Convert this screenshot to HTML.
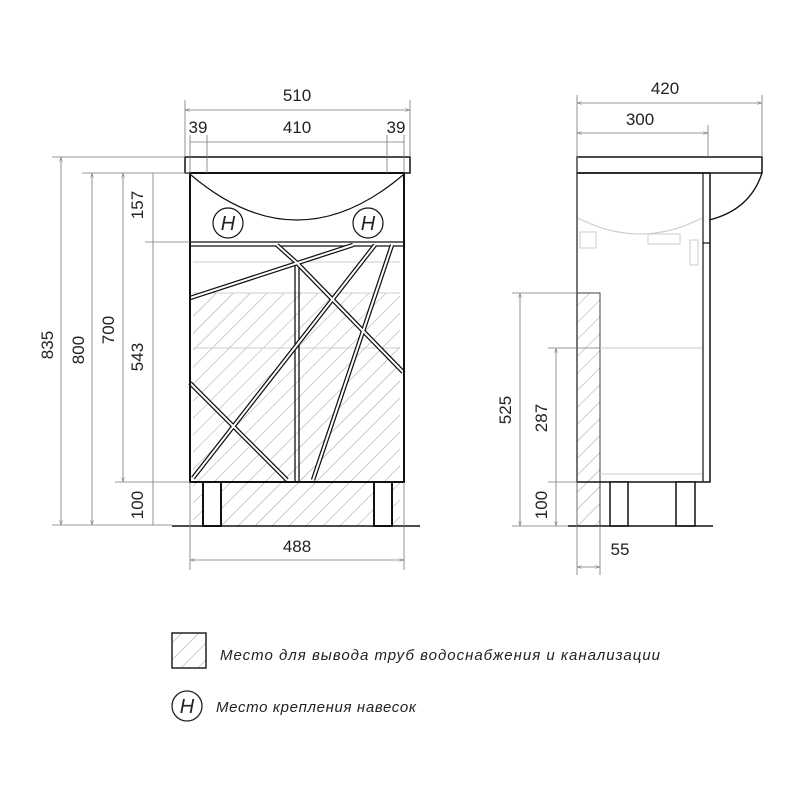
<!DOCTYPE html>
<html><head><meta charset="utf-8"><style>
html,body{margin:0;padding:0;background:#fff}
svg{display:block}
text{font-family:"Liberation Sans Narrow","Liberation Sans",sans-serif;fill:#222}
.t{font-size:17px}
.dim{stroke:#777;stroke-width:0.8;fill:none}
.k{stroke:#111;fill:none}
.lt{stroke:#ccc;stroke-width:1;fill:none}
</style></head><body>
<svg width="800" height="800" viewBox="0 0 800 800" xmlns="http://www.w3.org/2000/svg">
<defs>
<pattern id="h" patternUnits="userSpaceOnUse" width="12" height="12" patternTransform="rotate(45)">
<line x1="0" y1="0" x2="0" y2="12" stroke="#888" stroke-width="0.8"/>
</pattern>
<marker id="a" viewBox="0 0 10 10" refX="10" refY="5" markerWidth="6" markerHeight="6" orient="auto-start-reverse"><path d="M0,2 L10,5 L0,8" fill="none" stroke="#777"/></marker>
</defs>

<!-- FRONT VIEW -->
<rect x="193" y="293" width="207" height="234" fill="url(#h)"/>
<line class="lt" x1="193" y1="293" x2="400" y2="293"/>
<line class="lt" x1="193" y1="348" x2="400" y2="348"/>
<line class="lt" x1="193" y1="262" x2="400" y2="262"/>
<rect class="k" x="185" y="157" width="225" height="16" stroke-width="1.5"/>
<rect class="k" x="190" y="173" width="214" height="309" stroke-width="2"/>
<path class="k" d="M191,175 Q297,265 403,175" stroke-width="1.2"/>
<circle class="k" cx="228" cy="223" r="15" stroke-width="1.2"/>
<text x="228" y="230" text-anchor="middle" font-size="20" font-style="italic">H</text>
<circle class="k" cx="368" cy="223" r="15" stroke-width="1.2"/>
<text x="368" y="230" text-anchor="middle" font-size="20" font-style="italic">H</text>
<line class="k" x1="190" y1="242" x2="404" y2="242" stroke-width="1.2"/>
<line class="k" x1="190" y1="246" x2="404" y2="246" stroke-width="1.2"/>
<line class="k" x1="295" y1="263" x2="295" y2="482" stroke-width="1.3"/>
<line class="k" x1="299" y1="263" x2="299" y2="482" stroke-width="1.3"/>
<g stroke="#111" stroke-width="4.5" fill="none">
<line x1="277" y1="245" x2="297" y2="263"/>
<line x1="353" y1="245" x2="190" y2="298"/>
<line x1="297" y1="263" x2="403" y2="372"/>
<line x1="375" y1="245" x2="193" y2="478"/>
<line x1="392" y1="245" x2="313" y2="480"/>
<line x1="190" y1="383" x2="287" y2="480"/>
</g>
<g stroke="#fff" stroke-width="2" fill="none">
<line x1="277" y1="245" x2="297" y2="263"/>
<line x1="353" y1="245" x2="190" y2="298"/>
<line x1="297" y1="263" x2="403" y2="372"/>
<line x1="375" y1="245" x2="193" y2="478"/>
<line x1="392" y1="245" x2="313" y2="480"/>
<line x1="190" y1="383" x2="287" y2="480"/>
</g>
<rect class="k" x="190" y="173" width="214" height="309" stroke-width="2"/>
<rect x="203" y="482" width="18" height="44" fill="#fff" stroke="#111" stroke-width="2"/>
<rect x="374" y="482" width="18" height="44" fill="#fff" stroke="#111" stroke-width="2"/>
<line x1="172" y1="526" x2="420" y2="526" stroke="#111" stroke-width="1.5"/>

<!-- front dims -->
<g class="dim">
<line x1="185" y1="100" x2="185" y2="157"/><line x1="410" y1="100" x2="410" y2="157"/>
<line x1="185" y1="110" x2="410" y2="110" marker-start="url(#a)" marker-end="url(#a)"/>
<line x1="190" y1="135" x2="190" y2="173"/><line x1="207" y1="135" x2="207" y2="173"/>
<line x1="387" y1="135" x2="387" y2="173"/><line x1="404" y1="135" x2="404" y2="173"/>
<line x1="190" y1="142" x2="404" y2="142"/>
<line x1="52" y1="157" x2="185" y2="157"/>
<line x1="82" y1="173" x2="190" y2="173"/>
<line x1="145" y1="242" x2="190" y2="242"/>
<line x1="115" y1="482" x2="190" y2="482"/>
<line x1="52" y1="525" x2="172" y2="525"/>
<line x1="61" y1="157" x2="61" y2="525" marker-start="url(#a)" marker-end="url(#a)"/>
<line x1="92" y1="173" x2="92" y2="525" marker-start="url(#a)" marker-end="url(#a)"/>
<line x1="123" y1="173" x2="123" y2="482" marker-start="url(#a)" marker-end="url(#a)"/>
<line x1="153" y1="173" x2="153" y2="525"/>
<line x1="190" y1="482" x2="190" y2="570"/><line x1="404" y1="482" x2="404" y2="570"/>
<line x1="190" y1="560" x2="404" y2="560" marker-start="url(#a)" marker-end="url(#a)"/>
</g>
<text class="t" x="297" y="101" text-anchor="middle">510</text>
<text class="t" x="297" y="133" text-anchor="middle">410</text>
<text class="t" x="198" y="133" text-anchor="middle" font-size="14">39</text>
<text class="t" x="396" y="133" text-anchor="middle" font-size="14">39</text>
<text class="t" x="297" y="552" text-anchor="middle">488</text>
<text class="t" transform="translate(53,345) rotate(-90)" text-anchor="middle">835</text>
<text class="t" transform="translate(84,350) rotate(-90)" text-anchor="middle">800</text>
<text class="t" transform="translate(114,330) rotate(-90)" text-anchor="middle">700</text>
<text class="t" transform="translate(143,205) rotate(-90)" text-anchor="middle">157</text>
<text class="t" transform="translate(143,357) rotate(-90)" text-anchor="middle">543</text>
<text class="t" transform="translate(143,505) rotate(-90)" text-anchor="middle">100</text>

<!-- SIDE VIEW -->
<rect x="577" y="293" width="23" height="233" fill="url(#h)"/>
<rect class="k" x="577" y="293" width="23" height="233" stroke-width="0.8"/>
<rect class="k" x="577" y="157" width="185" height="16" stroke-width="1.5"/>
<rect class="k" x="577" y="173" width="133" height="309" stroke-width="1.5"/>
<path class="k" d="M762,173 Q750,210 709,220" stroke-width="1.3"/>
<line class="k" x1="703" y1="173" x2="703" y2="482" stroke-width="1.2"/>
<line class="k" x1="703" y1="243" x2="710" y2="243" stroke-width="1.2"/>
<line class="lt" x1="600" y1="348" x2="702" y2="348"/>
<line class="lt" x1="600" y1="474" x2="702" y2="474"/>
<path class="lt" d="M578,218 Q640,250 702,218"/>
<rect class="lt" x="648" y="234" width="32" height="10"/>
<rect class="lt" x="690" y="240" width="8" height="25"/>
<rect class="lt" x="580" y="232" width="16" height="16"/>
<rect x="610" y="482" width="18" height="44" fill="#fff" stroke="#111" stroke-width="1.5"/>
<rect x="676" y="482" width="19" height="44" fill="#fff" stroke="#111" stroke-width="1.5"/>
<line x1="568" y1="526" x2="713" y2="526" stroke="#111" stroke-width="1.5"/>
<g class="dim">
<line x1="577" y1="95" x2="577" y2="575"/><line x1="762" y1="95" x2="762" y2="157"/>
<line x1="708" y1="125" x2="708" y2="157"/>
<line x1="577" y1="103" x2="762" y2="103" marker-start="url(#a)" marker-end="url(#a)"/>
<line x1="577" y1="133" x2="708" y2="133" marker-start="url(#a)" marker-end="url(#a)"/>
<line x1="512" y1="293" x2="577" y2="293"/>
<line x1="548" y1="348" x2="600" y2="348"/>
<line x1="548" y1="482" x2="577" y2="482"/>
<line x1="512" y1="526" x2="568" y2="526"/>
<line x1="520" y1="293" x2="520" y2="526" marker-start="url(#a)" marker-end="url(#a)"/>
<line x1="556" y1="348" x2="556" y2="526" marker-start="url(#a)" marker-end="url(#a)"/>
<line x1="600" y1="526" x2="600" y2="575"/>
<line x1="577" y1="567" x2="600" y2="567" marker-start="url(#a)" marker-end="url(#a)"/>
</g>
<text class="t" x="665" y="94" text-anchor="middle">420</text>
<text class="t" x="640" y="125" text-anchor="middle">300</text>
<text class="t" x="620" y="555" text-anchor="middle">55</text>
<text class="t" transform="translate(511,410) rotate(-90)" text-anchor="middle">525</text>
<text class="t" transform="translate(547,418) rotate(-90)" text-anchor="middle">287</text>
<text class="t" transform="translate(547,505) rotate(-90)" text-anchor="middle">100</text>

<!-- LEGEND -->
<rect x="172" y="633" width="34" height="35" fill="url(#h)" stroke="#222" stroke-width="1.5"/>
<text x="220" y="660" font-size="15" font-style="italic" textLength="440" lengthAdjust="spacing">Место для вывода труб водоснабжения и канализации</text>
<circle cx="187" cy="706" r="15" fill="none" stroke="#222" stroke-width="1.3"/>
<text x="187" y="713" text-anchor="middle" font-size="20" font-style="italic">H</text>
<text x="216" y="712" font-size="15" font-style="italic" textLength="200" lengthAdjust="spacing">Место крепления навесок</text>
</svg>
</body></html>
